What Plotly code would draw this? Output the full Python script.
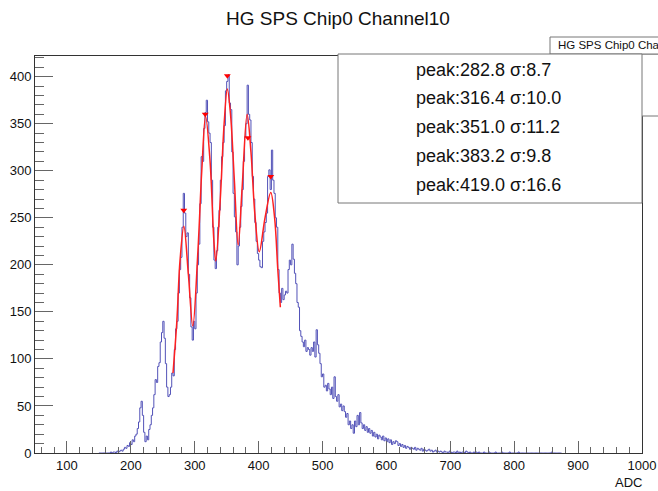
import plotly.graph_objects as go

# ---------------- data ----------------
bin_start = 150          # left edge of first bin (ADC)
bin_width = 2            # ADC per bin
counts = [
    0, 0, 0, 0, 0, 0, 0, 0,                     # 150-164
    0, 1, 0, 1, 1, 0, 2, 1, 2, 3, 2, 4, 6, 5, 8, 7, 11, 9,   # 166-200
    14, 12, 18, 20, 26, 33, 48, 55, 40, 22, 12, 18, 14, 25, 30, 40, 48, 62, 78, 75,  # 202-240
    92, 96, 118, 128, 140, 122, 95, 70, 60, 62, 70, 85, 82, 110, 132, 140, 170, 195, 208, 240,  # 242-280
    276, 255, 230, 234, 190, 165, 134, 120, 140, 132, 170, 200, 222, 265, 315, 310, 345, 362, 375, 352,  # 282-320
    340, 330, 290, 240, 205, 196, 215, 240, 258, 290, 315, 330, 348, 385, 395, 402, 372, 365, 320, 276,  # 322-360
    251, 235, 200, 220, 240, 262, 280, 310, 336, 350, 391, 360, 354, 330, 294, 270, 245, 225, 212, 205,  # 362-400
    198, 197, 225, 235, 245, 255, 294, 301, 280, 322, 290, 276, 250, 240, 195, 170, 160, 175, 163, 168,  # 402-440
    172, 170, 195, 205, 200, 222, 206, 191, 180, 160, 155, 130, 124, 118, 113, 120, 108, 112, 110, 104,  # 442-480
    112, 108, 118, 102, 131, 115, 106, 95, 81, 84, 70, 72, 66, 74, 68, 62, 70, 58, 81, 60,  # 482-520
    55, 62, 49, 52, 45, 50, 44, 38, 42, 30, 34, 26, 30, 21, 34, 28, 40, 30, 43, 32,  # 522-560
    26, 30, 24, 28, 22, 26, 21, 24, 18, 22, 17, 20, 15, 19, 17, 14, 18, 13, 16, 12,  # 562-600
    15, 11, 14, 9, 12, 10, 13, 12, 8, 10, 7, 9, 6, 8, 5, 7, 6, 4, 6, 5,  # 602-640
    4, 6, 3, 5, 4, 3, 5, 2, 4, 3, 2, 3, 4, 2, 3, 1, 2, 3, 1, 2,  # 642-680
    1, 2, 1, 0, 2, 1, 1, 0, 2, 1, 0, 1, 1, 0, 2, 0, 1, 0, 1, 1,  # 682-720
    0, 2, 1, 0, 1, 0, 0, 1, 0, 1, 0, 1, 0, 0, 0, 1, 0, 0, 0, 1,  # 722-760
    0, 0, 0, 0, 1, 0, 0, 0, 0, 1, 0, 0, 0, 0, 0, 1, 0, 0, 0, 0,  # 762-800
    0, 0, 1, 0, 0, 0, 0, 0, 0, 0, 0, 0, 0, 0, 0, 0, 0, 0, 0, 0,  # 802-840
    0, 0, 0, 0, 0, 0, 0, 0, 1, 0, 0, 0, 0, 0, 0, 0,            # 842-872
]

# fitted curve
fit_x = [266, 272, 277, 283, 290, 297, 305, 311, 317, 324, 330, 333, 340, 346, 351,
         356, 362, 368, 374, 382, 388, 394, 401, 410, 419, 425, 430, 434]
fit_y = [85, 140, 205, 241, 190, 135, 215, 300, 358, 310, 225, 204, 270, 350, 387,
         360, 290, 221, 280, 360, 320, 255, 214, 250, 277, 250, 195, 155]

# peak markers
peak_x = [282.8, 316.4, 351.0, 383.2, 419.0]
peak_y = [258, 360, 401, 335, 294]
peak_sigma = [8.7, 10.0, 11.2, 9.8, 16.6]

title_text = "HG SPS Chip0 Channel10"
stats_title = "HG SPS Chip0 Cha"     # as visible (cut by the canvas edge)
x_label = "ADC"

# ---------------- geometry helpers ----------------
W, H = 658, 491
L, R, T, B = 35, 642, 56, 453        # plot area in pixels
def px(xw):
    return (xw - L) / (R - L)
def py(yw):
    return (B - yw) / (B - T)

FONT = "Liberation Sans, Arial, Helvetica, sans-serif"

# histogram step outline from bin edges
edges = [bin_start + i * bin_width for i in range(len(counts) + 1)]
hx = edges
hy = counts + [counts[-1]]

fig = go.Figure()
fig.add_trace(go.Scatter(x=hx, y=hy, mode="lines", line=dict(shape="hv", color="#5252b8", width=1),
                         hoverinfo="skip", showlegend=False))
fig.add_trace(go.Scatter(x=fit_x, y=fit_y, mode="lines",
                         line=dict(shape="spline", smoothing=1.0, color="#ff2020", width=1.5),
                         hoverinfo="skip", showlegend=False))
fig.add_trace(go.Scatter(x=peak_x, y=peak_y, mode="markers",
                         marker=dict(symbol="triangle-down", color="#ff0000", size=6),
                         hoverinfo="skip", showlegend=False))

shapes = []
# stats box body and title box (partly off-canvas)
shapes.append(dict(type="rect", xref="paper", yref="paper", x0=px(550), x1=px(720), y0=py(116), y1=py(54),
                   line=dict(color="#777", width=1), fillcolor="white", layer="above"))
shapes.append(dict(type="rect", xref="paper", yref="paper", x0=px(550), x1=px(720), y0=py(54), y1=py(37),
                   line=dict(color="#777", width=1), fillcolor="white", layer="above"))
# peak text box
shapes.append(dict(type="rect", xref="paper", yref="paper", x0=px(338), x1=px(642), y0=py(203), y1=py(54),
                   line=dict(color="#777", width=1), fillcolor="white", layer="above"))

annotations = []
line_y = [70, 98, 127, 156, 185]
for xp, s, yl in zip(peak_x, peak_sigma, line_y):
    annotations.append(dict(xref="paper", yref="paper", x=px(414), y=py(yl), xanchor="left", yanchor="middle",
                            text=f"peak:{xp:.1f} σ:{s:.1f}", showarrow=False,
                            font=dict(family=FONT, size=18, color="#111")))
annotations.append(dict(xref="paper", yref="paper", x=px(556), y=py(45.5), xanchor="left", yanchor="middle",
                        text=stats_title, showarrow=False, font=dict(family=FONT, size=11.5, color="#111")))
annotations.append(dict(xref="paper", yref="paper", x=px(628), y=py(483), xanchor="center", yanchor="middle",
                        text=x_label, showarrow=False, font=dict(family=FONT, size=13, color="#111")))

fig.update_layout(
    width=W, height=H,
    margin=dict(l=L, r=W - R, t=T, b=H - B, pad=0, autoexpand=False),
    paper_bgcolor="white", plot_bgcolor="white",
    title=dict(text=title_text, x=338 / W, xanchor="center", y=1 - 18 / H, yanchor="middle",
               font=dict(family=FONT, size=19, color="#111")),
    shapes=shapes, annotations=annotations,
    showlegend=False,
)
fig.update_xaxes(range=[50, 1000], showgrid=False, zeroline=False, showline=True, mirror=True,
                 linecolor="#333", linewidth=1, ticks="inside", ticklen=12, tickcolor="#666",
                 tick0=0, dtick=100, tickfont=dict(family=FONT, size=13, color="#111"),
                 minor=dict(ticks="inside", ticklen=6, dtick=20, tick0=0, tickcolor="#666"),
                 automargin=False)
fig.update_yaxes(range=[0, 422], showgrid=False, zeroline=False, showline=True, mirror=True,
                 linecolor="#333", linewidth=1, ticks="inside", ticklen=18, tickcolor="#666",
                 tick0=0, dtick=50, tickfont=dict(family=FONT, size=13, color="#111"),
                 minor=dict(ticks="inside", ticklen=9, dtick=10, tick0=0, tickcolor="#666"),
                 automargin=False)

fig.write_html("out.html",
               config={"displayModeBar": False},
               post_script="document.body.style.margin='0';document.body.style.overflow='hidden';")
